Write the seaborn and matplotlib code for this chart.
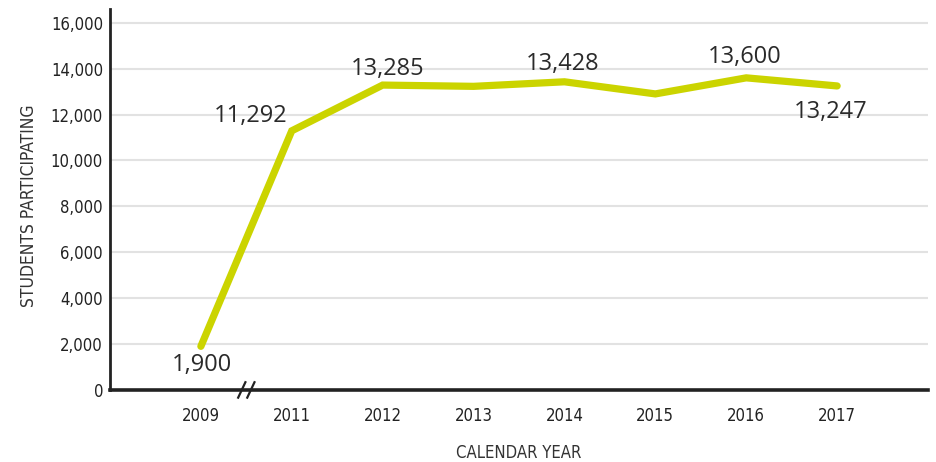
import matplotlib
matplotlib.use("Agg")
import matplotlib.pyplot as plt
import seaborn as sns
import pandas as pd

years = ["2009", "2011", "2012", "2013", "2014", "2015", "2016", "2017"]
students = [1900, 11292, 13285, 13230, 13428, 12900, 13600, 13247]
labeled_years = ["2009", "2011", "2012", "2014", "2016", "2017"]
y_ticks = [0, 2000, 4000, 6000, 8000, 10000, 12000, 14000, 16000]

sns.set_theme(style="white")
plt.rcParams["font.family"] = ["DejaVu Sans"]
plt.rcParams["font.stretch"] = "condensed"

df = pd.DataFrame({"year": years, "students": students})
df["pos"] = range(len(years))

fig = plt.figure(figsize=(9.36, 4.62), dpi=100)
ax = fig.add_axes([0.1175, 0.156, 0.874, 0.8245])

sns.lineplot(data=df, x="pos", y="students", ax=ax, color="#cbd400",
             linewidth=5.2, solid_capstyle="round", solid_joinstyle="miter",
             zorder=3)

ax.set_xlim(-1, 8)
ax.set_ylim(0, 16600)
ax.set_yticks(y_ticks)
ax.set_yticklabels([f"{v:,}" for v in y_ticks], fontsize=12, color="#222222",
                   fontstretch="condensed")
ax.set_xticks(df["pos"])
ax.set_xticklabels(years, fontsize=12, color="#222222",
                   fontstretch="condensed")
ax.yaxis.grid(True, color="#e2e2e2", linewidth=1.5)
ax.set_axisbelow(True)
ax.tick_params(axis="y", length=0, pad=5)
ax.tick_params(axis="x", length=8, width=1.2, color="#e2e2e2", direction="out",
               pad=4)

for side in ["top", "right"]:
    ax.spines[side].set_visible(False)
ax.spines["left"].set_linewidth(2.0)
ax.spines["left"].set_color("#222222")
ax.spines["bottom"].set_linewidth(2.6)
ax.spines["bottom"].set_color("#222222")

ax.set_xlabel("CALENDAR YEAR", fontsize=12, color="#333333",
              fontstretch="condensed")
ax.set_ylabel("STUDENTS PARTICIPATING", fontsize=12.5, color="#333333",
              fontstretch="condensed")
ax.xaxis.set_label_coords(0.5, -0.143)
ax.yaxis.set_label_coords(-0.088, 0.483)

# value labels, offsets in points from each point
offsets = {
    "2009": (0.7, -13.7),
    "2011": (-29.5, 10.8),
    "2012": (3.6, 11.5),
    "2014": (-1.4, 13.0),
    "2016": (-1.4, 15.0),
    "2017": (-4.3, -18.7),
}
for _, row in df.iterrows():
    if row["year"] in labeled_years:
        dx, dy = offsets[row["year"]]
        ax.annotate(f"{row['students']:,}", (row["pos"], row["students"]),
                    xytext=(dx, dy), textcoords="offset points",
                    ha="center", va="center", fontsize=17, color="#2a2a2a",
                    family=["Open Sans", "DejaVu Sans"],
                    fontstretch="normal", zorder=4)

# axis break between 2009 and 2011
for dx in (-0.05, 0.05):
    ax.plot([0.5 + dx - 0.045, 0.5 + dx + 0.045], [-380, 380],
            color="#222222", linewidth=1.6, clip_on=False, zorder=5,
            solid_capstyle="butt")

fig.savefig("out.png", dpi=100)
